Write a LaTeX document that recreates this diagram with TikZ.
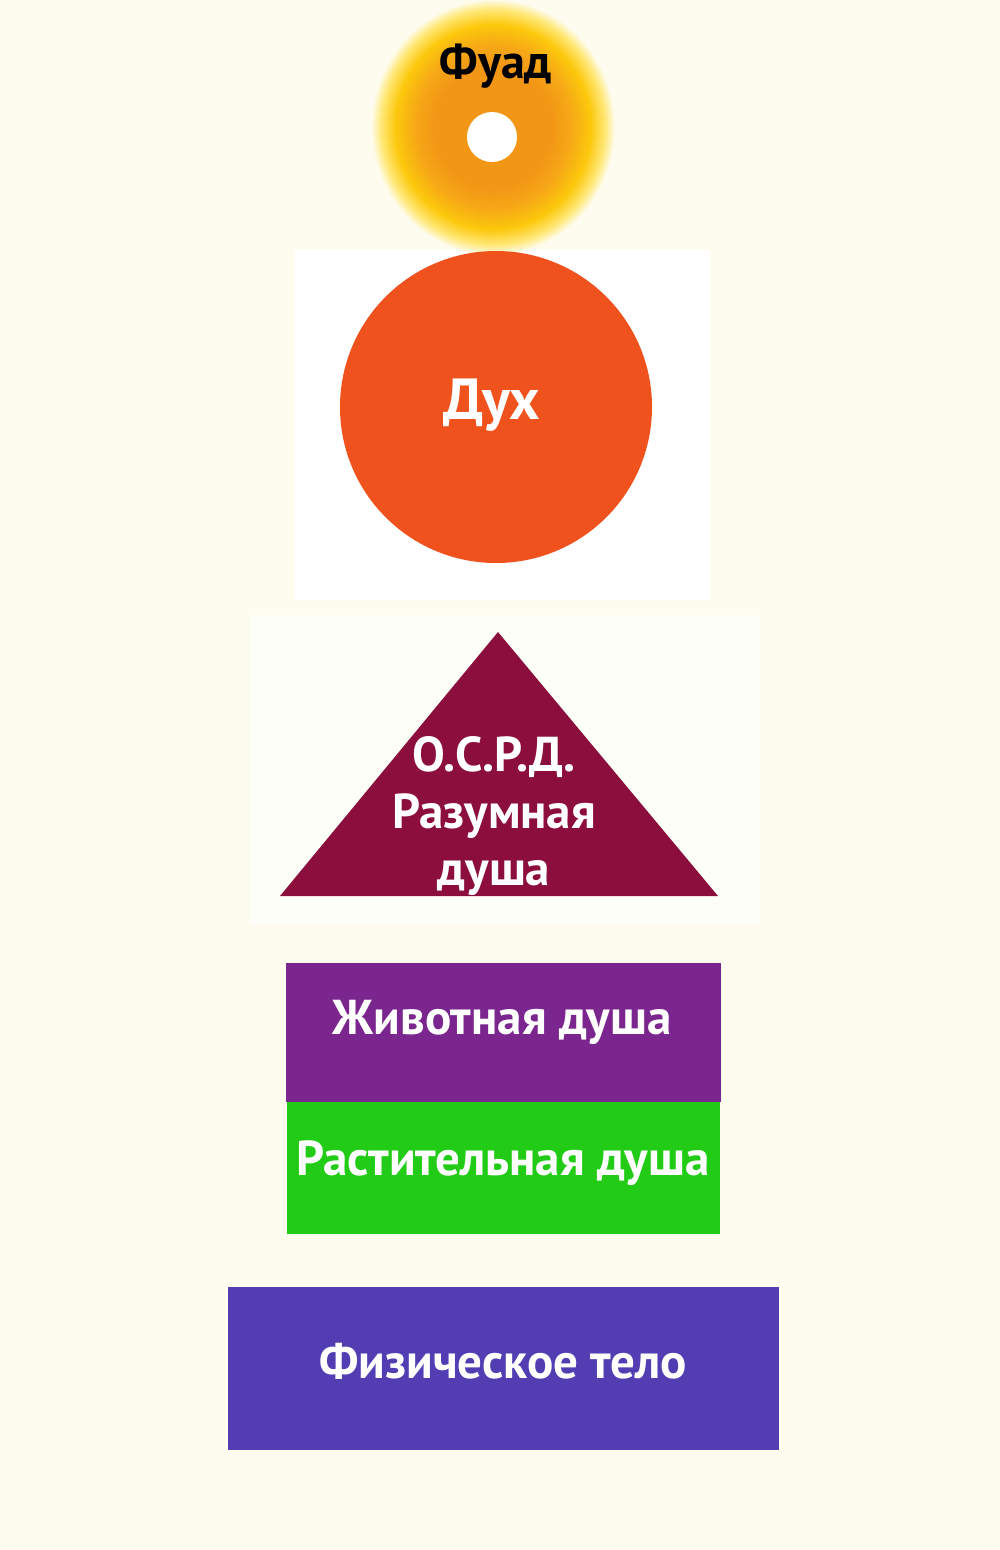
\documentclass[tikz,border=0pt]{standalone}
\usepackage{fontspec}
\setmainfont{PT Sans}
\definecolor{bg}{RGB}{254,252,238}
\definecolor{glowC}{RGB}{242,150,22}
\definecolor{glowD}{RGB}{246,168,22}
\definecolor{glowB}{RGB}{252,200,12}
\definecolor{glowA}{RGB}{255,232,120}
\definecolor{spiritcol}{RGB}{240,82,30}
\definecolor{trianglecol}{RGB}{140,14,60}
\definecolor{animalcol}{RGB}{122,38,142}
\definecolor{plantcol}{RGB}{34,204,22}
\definecolor{bodycol}{RGB}{82,62,178}
\pgfdeclareradialshading{fuadglow}{\pgfpoint{0bp}{0bp}}{color(0bp)=(glowC); color(12bp)=(glowC); color(16bp)=(glowD); color(20bp)=(glowB); color(23bp)=(glowA); color(25bp)=(bg); color(50bp)=(bg)}
\begin{document}
\begin{tikzpicture}[x=1pt,y=-1pt,
  lbl/.style={text=white, inner sep=0pt, font=\bfseries\fontsize{49}{56}\selectfont},
  boxlbl/.style={inner sep=0pt, outer sep=0pt}]
\useasboundingbox (0,0) rectangle (1000,1550);
\fill[bg] (0,0) rectangle (1000,1550);
\fill[white] (295,250) rectangle (710,600);
\fill[white!60!bg] (250,615) rectangle (760,925);
% glow
\shade[shading=fuadglow] (493,127) ellipse [x radius=122, y radius=128];
\fill[white] (492,137) circle [radius=25];
\node[inner sep=0pt, font=\bfseries\fontsize{48}{54}\selectfont, text=black] (fuad) at (496,66) {Фуад};
% spirit
\node[circle, fill=spiritcol, minimum size=312pt, inner sep=0pt] (spirit) at (496,407) {};
\node[lbl, font=\bfseries\fontsize{58}{64}\selectfont] (spiritlbl) at (492,405) {Дух};
% triangle
\coordinate (tA) at (498,632);
\coordinate (tB) at (280,896);
\coordinate (tC) at (718,896);
\fill[trianglecol] (tA) -- (tB) -- (tC) -- cycle;
\node[lbl, align=center, font=\bfseries\fontsize{49}{57}\selectfont] (soul) at (494,816) {О.С.Р.Д.\\Разумная\\душа};
% boxes
\node[boxlbl, fill=animalcol, minimum width=435pt, minimum height=139pt] (animal) at (503.5,1032.5) {};
\node[boxlbl, fill=plantcol, minimum width=433pt, minimum height=132pt] (plant) at (503.5,1168) {};
\node[boxlbl, fill=bodycol, minimum width=551pt, minimum height=163pt] (body) at (503.5,1368.5) {};
\node[lbl] (animallbl) at (502,1022) {Животная душа};
\node[lbl] (plantlbl) at (503,1163) {Растительная душа};
\node[lbl] (bodylbl) at (503,1361) {Физическое тело};
\end{tikzpicture}
\end{document}
